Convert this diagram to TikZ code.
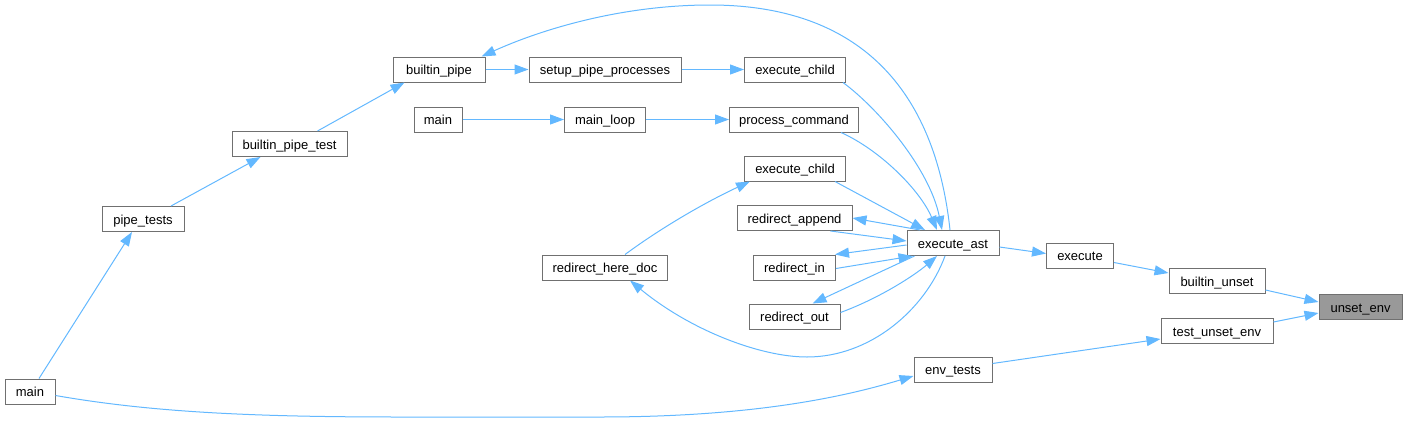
\documentclass[tikz,border=0pt]{standalone}
\usepackage{fontspec}
\setmainfont{Liberation Sans}
\usetikzlibrary{arrows.meta}
\definecolor{edgeblue}{HTML}{63B8FF}
\definecolor{boxgray}{HTML}{707070}
\definecolor{selgray}{HTML}{999999}
\begin{document}
\begin{tikzpicture}[x=1pt,y=-1pt,
  fn/.style={draw=boxgray,line width=1pt,fill=white,minimum height=25pt,inner sep=0pt,anchor=center,text height=10pt,text depth=0pt,font=\fontsize{13pt}{15pt}\selectfont},
  sel/.style={fn,fill=selgray},
  edge/.style={draw=edgeblue,line width=1pt,-{Triangle[length=14pt,width=10pt]}}]
\useasboundingbox (0,0) rectangle (1407,423);
% nodes
\node[fn,minimum width=92pt]  (bp)  at (439,69.5) {builtin\_pipe};
\node[fn,minimum width=152pt] (spp) at (605,69.5) {setup\_pipe\_processes};
\node[fn,minimum width=101pt] (ec1) at (795,69.5) {execute\_child};
\node[fn,minimum width=48pt]  (m1)  at (438,119.5) {main};
\node[fn,minimum width=81pt]  (ml)  at (605,119.5) {main\_loop};
\node[fn,minimum width=129pt] (pc)  at (794,119.5) {process\_command};
\node[fn,minimum width=101pt] (ec2) at (795,168.5) {execute\_child};
\node[fn,minimum width=115pt] (ra)  at (794.5,218) {redirect\_append};
\node[fn,minimum width=92pt]  (ast) at (953,243) {execute\_ast};
\node[fn,minimum width=82pt]  (ri)  at (794.5,267.5) {redirect\_in};
\node[fn,minimum width=91pt]  (ro)  at (794.5,316.5) {redirect\_out};
\node[fn,minimum width=125pt] (rhd) at (605,267.5) {redirect\_here\_doc};
\node[fn,minimum width=67pt]  (ex)  at (1080,255.5) {execute};
\node[fn,minimum width=96pt]  (bus) at (1217,281) {builtin\_unset};
\node[sel,minimum width=83pt] (ue)  at (1360.5,307) {unset\_env};
\node[fn,minimum width=112pt] (tue) at (1217,331) {test\_unset\_env};
\node[fn,minimum width=78pt]  (et)  at (953,369.5) {env\_tests};
\node[fn,minimum width=50pt]  (m2)  at (30,391.5) {main};
\node[fn,minimum width=82pt]  (pt)  at (143,219) {pipe\_tests};
\node[fn,minimum width=115pt] (bpt) at (289.5,144) {builtin\_pipe\_test};
% straight edges
\draw[edge] ([xshift=9pt]m2.north) -- ([xshift=-11pt]pt.south);
\draw[edge] ([xshift=28pt]pt.north) -- ([xshift=-29pt]bpt.south);
\draw[edge] ([xshift=28pt]bpt.north) -- ([xshift=12pt]bp.south west);
\draw[edge] (bp) -- (spp);
\draw[edge] (spp) -- (ec1);
\draw[edge] (m1) -- (ml);
\draw[edge] (ml) -- (pc);
\draw[edge] ([yshift=-4pt]ast.east) -- ([yshift=2pt]ex.west);
\draw[edge] ([yshift=-7pt]ex.east) -- ([yshift=8pt]bus.west);
\draw[edge] ([yshift=-9pt]bus.east) -- ([yshift=5pt]ue.west);
\draw[edge] ([yshift=9pt]tue.east) -- ([yshift=-6pt]ue.west);
\draw[edge] ([yshift=6pt]et.east) -- ([yshift=-8pt]tue.west);
% into execute_ast
\draw[edge] ([xshift=-3pt]ec1.south east) .. controls (880,110) and (930,170) .. ([xshift=-11pt]ast.north);
\draw[edge] ([xshift=-18pt]pc.south east) .. controls (880,150) and (920,190) .. ([xshift=-16pt]ast.north);
\draw[edge] ([xshift=-11pt]ec2.south east) -- ([xshift=-28pt]ast.north);
\draw[edge] ([xshift=-22pt]ra.south east) -- ([yshift=2pt]ast.west);
\draw[edge] ([yshift=-1pt]ri.east) -- ([xshift=6pt]ast.south west);
\draw[edge] ([yshift=4pt]ro.east) .. controls (880,298) and (915,275) .. ([xshift=-16pt]ast.south);
% out of execute_ast
\draw[edge] ([xshift=-33pt]ast.north) -- (ra.east);
\draw[edge] ([yshift=-2pt]ast.west) -- ([xshift=-1pt]ri.north east);
\draw[edge] ([xshift=8pt]ast.south west) -- ([xshift=18pt]ro.north);
\draw[edge] ([xshift=-3pt]ast.north) .. controls (935,90) and (860,5) .. (710,5)
            .. controls (620,5) and (540,30) .. ([xshift=-4pt]bp.north east);
\draw[edge] ([xshift=-8pt]ast.south) .. controls (925,310) and (870,357) .. (807,357)
            .. controls (760,357) and (690,330) .. ([xshift=25pt]rhd.south);
% others
\draw[edge] ([xshift=20pt]rhd.north) .. controls (665,225) and (710,200) .. ([xshift=6pt]ec2.south west);
\draw[edge] ([yshift=-4pt]m2.east) .. controls (150,412) and (250,417) .. (400,417)
            -- (600,417) .. controls (760,417) and (850,395) .. ([yshift=-6.5pt]et.west);
\end{tikzpicture}
\end{document}
